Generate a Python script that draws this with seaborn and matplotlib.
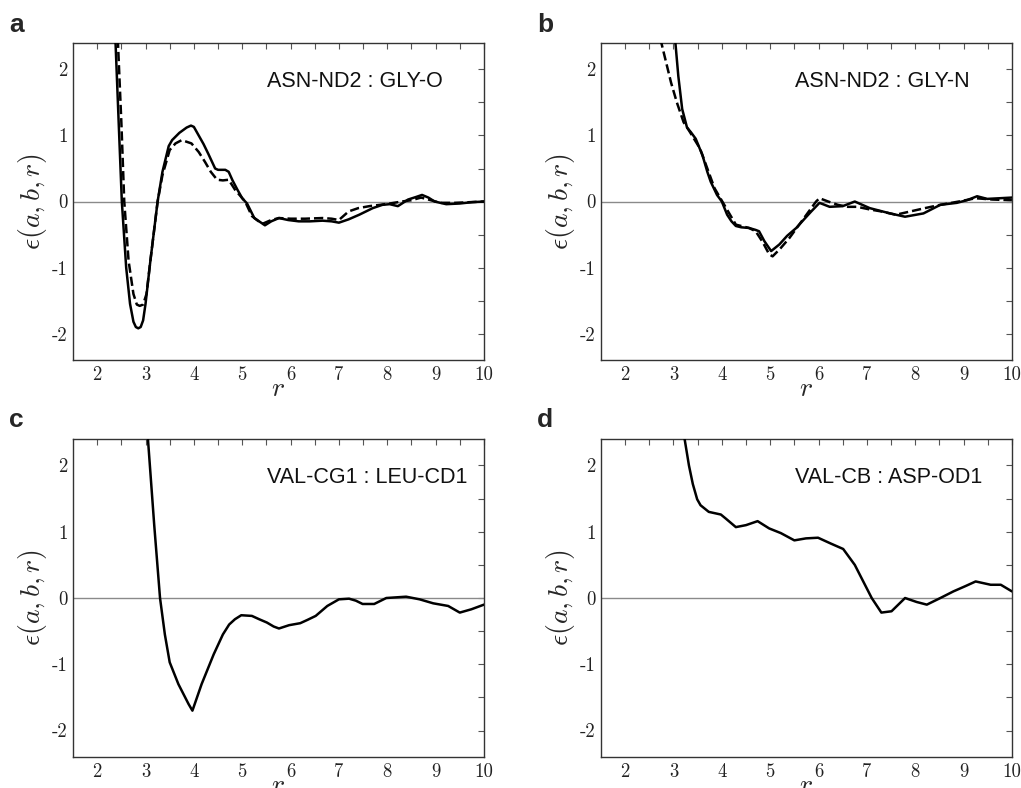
import matplotlib.pyplot as plt
import numpy as np
import pandas as pd
import seaborn as sns

# panel a: ASN-ND2 : GLY-O
a_solid_r = [2.30, 2.38, 2.45, 2.51, 2.60, 2.68, 2.75, 2.80, 2.85, 2.90, 2.95, 3.00, 3.10, 3.25,
             3.35, 3.48, 3.55, 3.70, 3.85, 3.94, 4.00, 4.10, 4.20, 4.30, 4.44, 4.50, 4.65, 4.72,
             4.80, 4.90, 5.00, 5.10, 5.25, 5.47, 5.60, 5.76, 5.95, 6.17, 6.40, 6.66, 6.85, 7.00,
             7.20, 7.42, 7.70, 7.90, 8.05, 8.22, 8.43, 8.60, 8.72, 8.85, 8.98, 9.22, 9.50, 9.75, 10.0]
a_solid_e = [3.40, 2.40, 1.10, 0.00, -1.00, -1.55, -1.82, -1.90, -1.92, -1.90, -1.80, -1.55, -0.90, 0.00,
             0.45, 0.84, 0.93, 1.04, 1.12, 1.15, 1.13, 1.00, 0.87, 0.72, 0.50, 0.48, 0.48, 0.45,
             0.32, 0.18, 0.05, -0.03, -0.25, -0.36, -0.30, -0.25, -0.28, -0.30, -0.30, -0.29, -0.30, -0.32,
             -0.27, -0.20, -0.10, -0.05, -0.04, -0.07, 0.03, 0.07, 0.10, 0.06, 0.00, -0.04, -0.03, -0.01, 0.00]
a_dash_r = [2.35, 2.43, 2.50, 2.56, 2.65, 2.75, 2.82, 2.88, 2.95, 3.02, 3.10, 3.25, 3.35, 3.50,
            3.62, 3.75, 3.95, 4.10, 4.23, 4.35, 4.48, 4.60, 4.72, 4.85, 5.06, 5.20, 5.41, 5.60,
            5.76, 6.00, 6.30, 6.66, 6.85, 7.00, 7.20, 7.40, 7.63, 7.85, 8.05, 8.30, 8.50, 8.70,
            8.90, 9.10, 9.40, 9.70, 10.0]
a_dash_e = [3.40, 2.40, 1.20, 0.00, -0.90, -1.40, -1.56, -1.58, -1.56, -1.40, -0.90, 0.00, 0.40, 0.78,
            0.88, 0.93, 0.88, 0.75, 0.60, 0.45, 0.33, 0.32, 0.33, 0.18, 0.00, -0.22, -0.34, -0.28,
            -0.25, -0.26, -0.26, -0.25, -0.26, -0.28, -0.15, -0.10, -0.07, -0.05, -0.03, 0.00, 0.02, 0.06,
            0.02, -0.02, -0.02, -0.01, 0.00]

# panel b: ASN-ND2 : GLY-N
b_solid_r = [2.95, 3.04, 3.10, 3.18, 3.28, 3.36, 3.46, 3.60, 3.70, 3.77, 3.90, 4.00, 4.11, 4.20,
             4.29, 4.40, 4.56, 4.70, 4.77, 4.88, 5.02, 5.19, 5.35, 5.54, 5.70, 5.85, 6.02, 6.23,
             6.50, 6.75, 7.06, 7.48, 7.79, 8.17, 8.52, 8.86, 9.07, 9.28, 9.49, 9.75, 10.0]
b_solid_e = [3.40, 2.40, 1.90, 1.40, 1.12, 1.05, 0.95, 0.70, 0.45, 0.30, 0.10, 0.00, -0.20, -0.30,
             -0.37, -0.39, -0.40, -0.43, -0.45, -0.60, -0.75, -0.65, -0.52, -0.40, -0.27, -0.15, -0.02, -0.08,
             -0.07, 0.00, -0.10, -0.18, -0.23, -0.18, -0.05, -0.02, 0.02, 0.08, 0.04, 0.05, 0.06]
b_dash_r = [2.60, 2.75, 2.85, 2.95, 3.07, 3.21, 3.30, 3.40, 3.55, 3.70, 3.85, 4.05, 4.29, 4.56,
            4.70, 4.85, 4.98, 5.05, 5.20, 5.40, 5.60, 5.80, 5.95, 6.02, 6.20, 6.40, 6.60, 6.80,
            7.06, 7.30, 7.60, 7.90, 8.20, 8.52, 8.90, 9.25, 9.60, 10.0]
b_dash_e = [3.40, 2.40, 2.10, 1.80, 1.50, 1.20, 1.10, 0.98, 0.80, 0.50, 0.20, -0.05, -0.35, -0.40,
            -0.45, -0.62, -0.80, -0.83, -0.72, -0.55, -0.35, -0.15, 0.00, 0.05, 0.00, -0.05, -0.08, -0.08,
            -0.12, -0.15, -0.20, -0.15, -0.10, -0.05, 0.00, 0.05, 0.03, 0.02]

# panel c: VAL-CG1 : LEU-CD1
c_solid_r = [2.98, 3.05, 3.18, 3.30, 3.40, 3.50, 3.68, 3.89, 3.97, 4.16, 4.41, 4.60, 4.73, 4.85,
             4.98, 5.20, 5.35, 5.51, 5.65, 5.76, 5.97, 6.20, 6.35, 6.52, 6.76, 7.00, 7.21, 7.35,
             7.49, 7.73, 7.98, 8.39, 8.67, 8.95, 9.26, 9.50, 9.74, 10.0]
c_solid_e = [3.40, 2.40, 1.10, 0.00, -0.55, -0.97, -1.30, -1.60, -1.70, -1.30, -0.85, -0.55, -0.40, -0.32,
             -0.26, -0.27, -0.32, -0.37, -0.43, -0.46, -0.41, -0.38, -0.33, -0.27, -0.12, -0.02, -0.01, -0.04,
             -0.09, -0.09, 0.00, 0.02, -0.02, -0.08, -0.12, -0.22, -0.17, -0.10]

# panel d: VAL-CB : ASP-OD1
d_solid_r = [3.18, 3.23, 3.32, 3.40, 3.49, 3.56, 3.73, 3.98, 4.08, 4.29, 4.50, 4.74, 4.98, 5.22,
             5.50, 5.74, 5.99, 6.26, 6.51, 6.75, 6.96, 7.10, 7.30, 7.51, 7.79, 8.03, 8.24, 8.52,
             8.79, 9.04, 9.25, 9.56, 9.77, 10.0]
d_solid_e = [3.40, 2.40, 2.00, 1.72, 1.49, 1.40, 1.30, 1.26, 1.20, 1.07, 1.10, 1.16, 1.05, 0.98,
             0.87, 0.90, 0.91, 0.82, 0.74, 0.50, 0.20, 0.00, -0.22, -0.20, 0.00, -0.06, -0.10, 0.00,
             0.10, 0.18, 0.25, 0.20, 0.20, 0.10]

panels = [
    ("a", "ASN-ND2 : GLY-O", [(a_solid_r, a_solid_e, "-"), (a_dash_r, a_dash_e, "--")]),
    ("b", "ASN-ND2 : GLY-N", [(b_solid_r, b_solid_e, "-"), (b_dash_r, b_dash_e, "--")]),
    ("c", "VAL-CG1 : LEU-CD1", [(c_solid_r, c_solid_e, "-")]),
    ("d", "VAL-CB : ASP-OD1", [(d_solid_r, d_solid_e, "-")]),
]

sns.set_theme(style="white")
plt.rcParams["mathtext.fontset"] = "cm"

fig = plt.figure(figsize=(10.21, 7.88), dpi=100)
boxes = [
    [0.0715, 0.5431, 0.4025, 0.4023],
    [0.5886, 0.5431, 0.4025, 0.4023],
    [0.0715, 0.0393, 0.4025, 0.4036],
    [0.5886, 0.0393, 0.4025, 0.4036],
]
letter_pos = [(0.009, 0.959), (0.526, 0.959), (0.009, 0.458), (0.526, 0.458)]

xticks = np.arange(2, 10.01, 0.5)
yticks = np.arange(-2, 2.01, 0.5)

for (letter, label, curves), box, lp in zip(panels, boxes, letter_pos):
    ax = fig.add_axes(box)
    ax.axhline(0, color="#8a8a8a", lw=1.0, zorder=1)
    for r, e, ls in curves:
        df = pd.DataFrame({"r": r, "eps": e})
        sns.lineplot(data=df, x="r", y="eps", ax=ax, color="black", lw=1.8,
                     linestyle=ls, estimator=None, zorder=3)
    ax.set_xlim(1.5, 10)
    ax.set_ylim(-2.4, 2.4)
    ax.set_xticks(xticks)
    ax.set_xticklabels([str(int(t)) if t == int(t) else "" for t in xticks],
                       family="cmr10", fontsize=13.5, color="#222222")
    ax.set_yticks(yticks)
    ax.set_yticklabels([str(int(t)) if t == int(t) else "" for t in yticks],
                       family="cmr10", fontsize=13.5, color="#222222")
    ax.tick_params(direction="in", top=True, right=True, length=4, width=0.8,
                   color="#555555", pad=4)
    for s in ax.spines.values():
        s.set_color("#333333")
        s.set_linewidth(1.0)
    ax.set_xlabel(r"$r$", fontsize=20, labelpad=-7)
    ax.set_ylabel(r"$\epsilon(a,b,r)$", fontsize=20, labelpad=2)
    ax.text(0.472, 0.862, label, transform=ax.transAxes, ha="left", va="baseline",
            fontsize=15.5, family="Liberation Sans", color="#111111")
    fig.text(lp[0], lp[1], letter, fontsize=19, fontweight="bold",
             family="Liberation Sans", ha="left", va="baseline")

fig.savefig("out.png", dpi=100)
